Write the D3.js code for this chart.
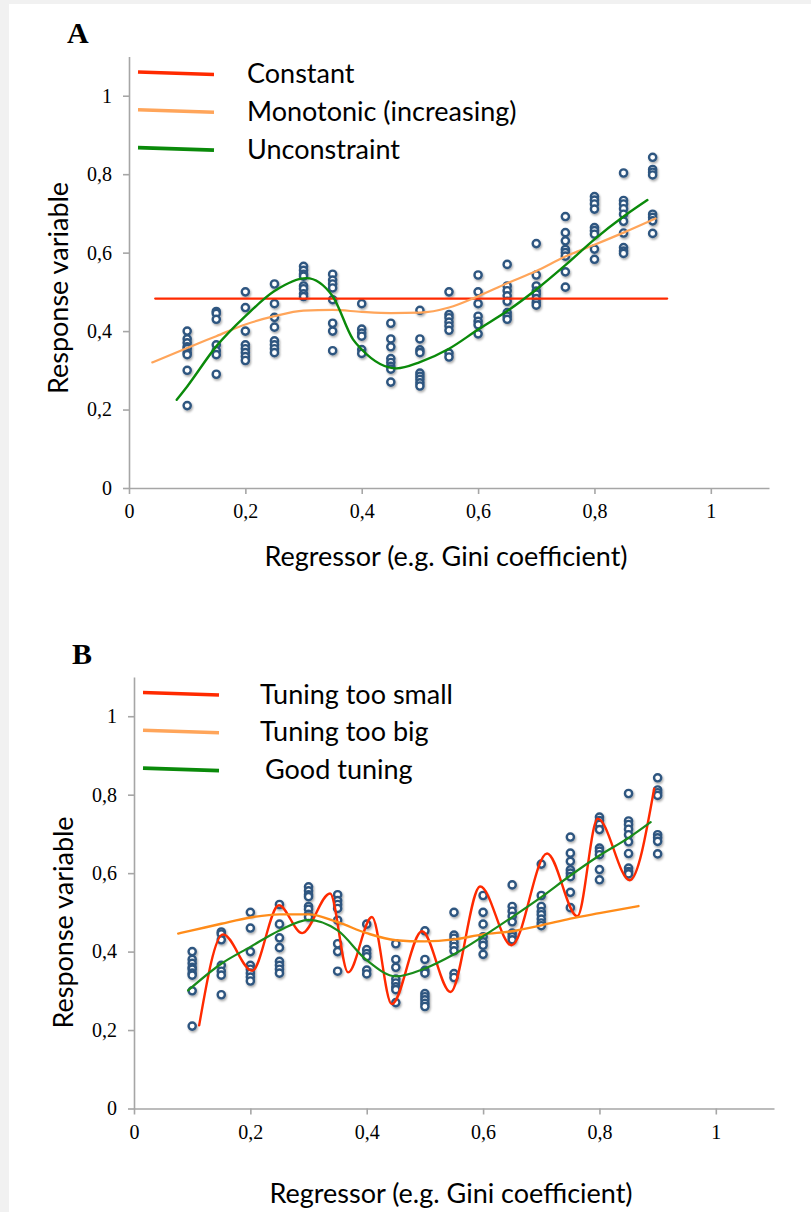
<!DOCTYPE html>
<html>
<head>
<meta charset="utf-8">
<script src="https://cdn.jsdelivr.net/npm/d3@7"></script>
<style>
  html, body { margin: 0; padding: 0; background: #f1f1f1; }
  svg { display: block; }
</style>
</head>
<body>
<svg id="fig" width="811" height="1212"></svg>
<script>
// Regressor values at which the response was observed (one column of points each)
const regressorLevels = [0.1, 0.15, 0.2, 0.25, 0.3, 0.35, 0.4, 0.45, 0.5, 0.55, 0.6, 0.65, 0.7, 0.75, 0.8, 0.85, 0.9];
// Observed responses, one list per regressor level
const responses = [
  [0.40, 0.38, 0.37, 0.36, 0.355, 0.345, 0.34, 0.30, 0.21],
  [0.45, 0.445, 0.43, 0.365, 0.35, 0.34, 0.29],
  [0.50, 0.46, 0.40, 0.365, 0.355, 0.345, 0.335, 0.325],
  [0.52, 0.47, 0.435, 0.41, 0.375, 0.365, 0.355, 0.345],
  [0.565, 0.555, 0.545, 0.54, 0.515, 0.508, 0.495, 0.488],
  [0.545, 0.53, 0.52, 0.51, 0.48, 0.42, 0.40, 0.35],
  [0.47, 0.405, 0.395, 0.387, 0.353, 0.343],
  [0.42, 0.38, 0.36, 0.33, 0.32, 0.31, 0.303, 0.27],
  [0.453, 0.38, 0.352, 0.345, 0.293, 0.285, 0.277, 0.268, 0.26],
  [0.50, 0.442, 0.434, 0.423, 0.413, 0.402, 0.344, 0.334],
  [0.543, 0.50, 0.47, 0.438, 0.425, 0.416, 0.393],
  [0.57, 0.515, 0.503, 0.49, 0.476, 0.447, 0.438, 0.43],
  [0.623, 0.543, 0.515, 0.502, 0.494, 0.483, 0.473, 0.466],
  [0.692, 0.651, 0.63, 0.608, 0.6, 0.591, 0.551, 0.512],
  [0.743, 0.734, 0.724, 0.711, 0.664, 0.656, 0.647, 0.609, 0.583],
  [0.803, 0.733, 0.724, 0.712, 0.698, 0.68, 0.65, 0.613, 0.604, 0.598],
  [0.843, 0.812, 0.805, 0.798, 0.698, 0.69, 0.681, 0.649]
];

// Axis ticks
const tickValues = [0, 0.2, 0.4, 0.6, 0.8, 1];
const tickLabels = ["0", "0,2", "0,4", "0,6", "0,8", "1"];

// Panel A fits
const constantX = [0.045, 0.925];
const constantY = [0.483, 0.483];
const monotonicX = [0.040, 0.10, 0.15, 0.20, 0.25, 0.30, 0.35, 0.40, 0.45, 0.50, 0.55, 0.60, 0.65, 0.70, 0.75, 0.80, 0.85, 0.905];
const monotonicY = [0.320, 0.357, 0.387, 0.417, 0.438, 0.452, 0.454, 0.449, 0.446, 0.447, 0.460, 0.489, 0.522, 0.553, 0.590, 0.620, 0.651, 0.687];
const unconstrainedX = [0.082, 0.10, 0.15, 0.20, 0.25, 0.305, 0.35, 0.385, 0.40, 0.46, 0.50, 0.55, 0.60, 0.65, 0.70, 0.75, 0.80, 0.85, 0.891];
const unconstrainedY = [0.225, 0.259, 0.361, 0.438, 0.502, 0.535, 0.489, 0.379, 0.353, 0.305, 0.321, 0.355, 0.404, 0.451, 0.506, 0.568, 0.634, 0.692, 0.734];

// Panel B fits
const smallTuningX = [0.112, 0.153, 0.203, 0.249, 0.289, 0.337, 0.368, 0.409, 0.443, 0.495, 0.544, 0.595, 0.649, 0.710, 0.762, 0.797, 0.852, 0.894];
const smallTuningY = [0.212, 0.444, 0.351, 0.518, 0.447, 0.548, 0.347, 0.488, 0.266, 0.452, 0.297, 0.566, 0.416, 0.650, 0.490, 0.739, 0.582, 0.815];
const bigTuningX = [0.076, 0.10, 0.15, 0.20, 0.25, 0.30, 0.35, 0.40, 0.45, 0.50, 0.55, 0.60, 0.65, 0.70, 0.75, 0.80, 0.867];
const bigTuningY = [0.446, 0.454, 0.471, 0.487, 0.495, 0.495, 0.475, 0.447, 0.429, 0.426, 0.431, 0.444, 0.452, 0.467, 0.484, 0.498, 0.516];
const goodTuningX = [0.093, 0.15, 0.20, 0.25, 0.30, 0.35, 0.40, 0.45, 0.50, 0.55, 0.60, 0.65, 0.70, 0.75, 0.80, 0.85, 0.888];
const goodTuningY = [0.301, 0.369, 0.412, 0.454, 0.481, 0.454, 0.378, 0.337, 0.357, 0.393, 0.439, 0.488, 0.539, 0.594, 0.645, 0.690, 0.730];

const svg = d3.select("#fig");

// white sheet on the light grey page
svg.append("rect").attr("x", 9).attr("y", 4).attr("width", 802).attr("height", 1208).attr("fill", "#ffffff");

const defs = svg.append("defs");
const shadow = defs.append("filter").attr("id", "dotShadow")
  .attr("x", "-20%").attr("y", "-20%").attr("width", "140%").attr("height", "140%");
shadow.append("feDropShadow").attr("dx", 1).attr("dy", 1.6).attr("stdDeviation", 1)
  .attr("flood-color", "#000").attr("flood-opacity", 0.35);

const observations = [];
regressorLevels.forEach((x, i) => responses[i].forEach(y => observations.push({ x, y })));

const sansFont = "Lato, 'Open Sans', sans-serif";
const serifFont = "'Liberation Serif', 'Times New Roman', serif";

function drawPanel(opt) {
  const x = d3.scaleLinear().domain([0, 1.1]).range([opt.left, opt.left + 640]);
  const y = d3.scaleLinear().domain([0, 1.1]).range([opt.bottom, opt.bottom - 431.5]);
  const g = svg.append("g");

  // axes
  const xAxis = d3.axisBottom(x).tickValues(tickValues).tickFormat((d, i) => tickLabels[i])
    .tickSizeInner(6).tickSizeOuter(0).tickPadding(10);
  const yAxis = d3.axisLeft(y).tickValues(tickValues).tickFormat((d, i) => tickLabels[i])
    .tickSizeInner(6).tickSizeOuter(0).tickPadding(11);

  const gx = g.append("g").attr("transform", `translate(0,${opt.bottom})`).call(xAxis);
  const gy = g.append("g").attr("transform", `translate(${opt.left},0)`).call(yAxis);
  [gx, gy].forEach(a => {
    a.select(".domain").attr("stroke", "#a6a6a6").attr("stroke-width", 1.6);
    a.selectAll(".tick line").attr("stroke", "#a6a6a6").attr("stroke-width", 1.6);
    a.selectAll(".tick text").attr("fill", "#000")
      .style("font-family", serifFont).style("font-size", "20px");
  });

  // observations
  g.append("g").attr("filter", "url(#dotShadow)")
    .selectAll("circle").data(observations).join("circle")
    .attr("cx", d => x(d.x)).attr("cy", d => y(d.y)).attr("r", 3.6)
    .attr("fill", "#fff").attr("stroke", "#2f5680").attr("stroke-width", 2.4);

  // fitted curves
  opt.curves.forEach(c => {
    const pts = c.xs.map((v, i) => [v, c.ys[i]]);
    const line = d3.line().x(d => x(d[0])).y(d => y(d[1])).curve(c.curve);
    g.append("path").attr("d", line(pts)).attr("fill", "none")
      .attr("stroke", c.color).attr("stroke-width", c.width).attr("stroke-linecap", "round");
  });

  // legend
  opt.curves.forEach((c, i) => {
    const ly = opt.legendTop + i * 37.8;
    g.append("line").attr("x1", opt.left + 9).attr("x2", opt.left + 85)
      .attr("y1", ly - 1).attr("y2", ly + 1.5)
      .attr("stroke", c.legendColor || c.color).attr("stroke-width", 3.6);
    g.append("text").attr("x", opt.left + opt.legendTextDx + (c.textDx || 0)).attr("y", ly + 10)
      .text(c.label).attr("fill", "#000")
      .style("font-family", sansFont).style("font-size", "27px");
  });

  // panel letter
  g.append("text").attr("x", opt.left - 62).attr("y", opt.bottom - 445)
    .text(opt.letter).attr("fill", "#000")
    .style("font-family", serifFont)
    .style("font-weight", "bold").style("font-size", "30px");

  // axis titles
  g.append("text").attr("x", opt.left + 317).attr("y", opt.bottom + opt.xTitleDrop)
    .attr("text-anchor", "middle").text("Regressor (e.g. Gini coefficient)")
    .style("font-family", sansFont).style("font-size", "27px");
  g.append("text").attr("transform", `translate(${opt.left - 61},${opt.bottom - opt.yTitleRise}) rotate(-90)`)
    .attr("text-anchor", "middle").text("Response variable")
    .style("font-family", sansFont).style("font-size", "27px");
}

drawPanel({
  letter: "A", left: 129, bottom: 488, legendTop: 73, legendTextDx: 118, yTitleRise: 200, xTitleDrop: 78,
  curves: [
    { label: "Constant", xs: constantX, ys: constantY, color: "#ff2a00", width: 2.2, curve: d3.curveLinear },
    { label: "Monotonic (increasing)", xs: monotonicX, ys: monotonicY, color: "#ffa55a", width: 2.2, curve: d3.curveMonotoneX },
    { label: "Unconstraint", xs: unconstrainedX, ys: unconstrainedY, color: "#0a8a0a", width: 2.4, curve: d3.curveMonotoneX }
  ]
});

drawPanel({
  letter: "B", left: 134, bottom: 1108.5, legendTop: 693.5, legendTextDx: 126, yTitleRise: 186, xTitleDrop: 94,
  curves: [
    { label: "Tuning too small", xs: smallTuningX, ys: smallTuningY, color: "#ff2a00", width: 2.4, curve: d3.curveMonotoneX },
    { label: "Tuning too big", xs: bigTuningX, ys: bigTuningY, color: "#ff8c1a", legendColor: "#ffa55a", width: 2.4, curve: d3.curveMonotoneX },
    { label: "Good tuning", xs: goodTuningX, ys: goodTuningY, color: "#1a8c1a", legendColor: "#0a8a0a", width: 2.2, curve: d3.curveMonotoneX, textDx: 5 }
  ]
});
</script>
</body>
</html>
